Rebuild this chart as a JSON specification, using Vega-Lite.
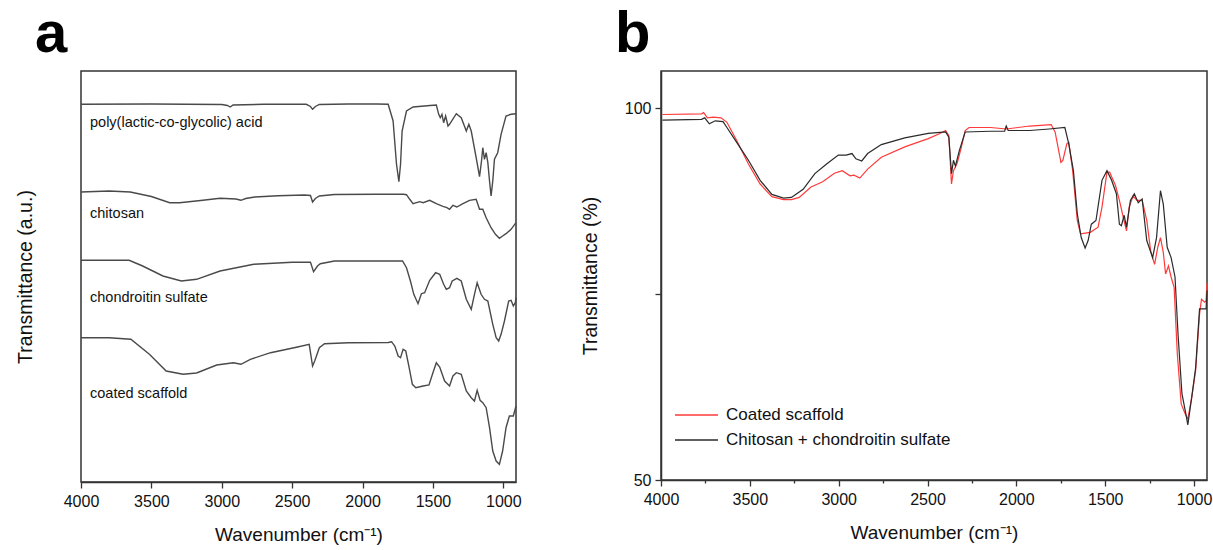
{
  "$schema": "https://vega.github.io/schema/vega-lite/v6.json",
  "background": "white",
  "padding": {"left": 14, "top": 5, "right": 1, "bottom": 2},
  "spacing": 57,
  "resolve": {"legend": {"color": "independent"}},
  "config": {
    "font": "Liberation Sans",
    "view": {"stroke": "#333333", "strokeWidth": 1.5},
    "axis": {"grid": false, "labelFlush": false, "labelOverlap": false, "labelFont": "Liberation Sans", "titleFont": "Liberation Sans", "labelColor": "#111111", "titleColor": "#111111", "titleFontWeight": "normal", "domainColor": "#333333", "domainWidth": 1.5, "tickColor": "#333333", "tickWidth": 1.3}
  },
  "datasets": {
    "a": [
      {"s": "PLGA", "w": 4000, "v": 377.7}, {"s": "PLGA", "w": 3500, "v": 378}, {"s": "PLGA", "w": 3000, "v": 377.5}, {"s": "PLGA", "w": 2960, "v": 376.5}, {"s": "PLGA", "w": 2940, "v": 375}, {"s": "PLGA", "w": 2920, "v": 377}, {"s": "PLGA", "w": 2700, "v": 377.7}, {"s": "PLGA", "w": 2400, "v": 377.7}, {"s": "PLGA", "w": 2370, "v": 375.5}, {"s": "PLGA", "w": 2355, "v": 372.7}, {"s": "PLGA", "w": 2335, "v": 375.5}, {"s": "PLGA", "w": 2307, "v": 377.5}, {"s": "PLGA", "w": 2100, "v": 378}, {"s": "PLGA", "w": 1900, "v": 378}, {"s": "PLGA", "w": 1818, "v": 377.7}, {"s": "PLGA", "w": 1783, "v": 361}, {"s": "PLGA", "w": 1759, "v": 318}, {"s": "PLGA", "w": 1742, "v": 300.3}, {"s": "PLGA", "w": 1730, "v": 318}, {"s": "PLGA", "w": 1719, "v": 351}, {"s": "PLGA", "w": 1688, "v": 371}, {"s": "PLGA", "w": 1641, "v": 375}, {"s": "PLGA", "w": 1520, "v": 376.5}, {"s": "PLGA", "w": 1476, "v": 377}, {"s": "PLGA", "w": 1459, "v": 367.7}, {"s": "PLGA", "w": 1448, "v": 364.3}, {"s": "PLGA", "w": 1436, "v": 367.7}, {"s": "PLGA", "w": 1424, "v": 359.3}, {"s": "PLGA", "w": 1410, "v": 366}, {"s": "PLGA", "w": 1393, "v": 356}, {"s": "PLGA", "w": 1382, "v": 357.7}, {"s": "PLGA", "w": 1334, "v": 368.3}, {"s": "PLGA", "w": 1299, "v": 364.3}, {"s": "PLGA", "w": 1263, "v": 351}, {"s": "PLGA", "w": 1245, "v": 357.7}, {"s": "PLGA", "w": 1228, "v": 351}, {"s": "PLGA", "w": 1193, "v": 324.3}, {"s": "PLGA", "w": 1169, "v": 305.3}, {"s": "PLGA", "w": 1155, "v": 321}, {"s": "PLGA", "w": 1146, "v": 334.3}, {"s": "PLGA", "w": 1134, "v": 322.7}, {"s": "PLGA", "w": 1122, "v": 329.3}, {"s": "PLGA", "w": 1110, "v": 319.3}, {"s": "PLGA", "w": 1098, "v": 301}, {"s": "PLGA", "w": 1087, "v": 286}, {"s": "PLGA", "w": 1075, "v": 301}, {"s": "PLGA", "w": 1063, "v": 322.7}, {"s": "PLGA", "w": 1040, "v": 329.3}, {"s": "PLGA", "w": 1016, "v": 347.7}, {"s": "PLGA", "w": 981, "v": 366}, {"s": "PLGA", "w": 945, "v": 367.7}, {"s": "PLGA", "w": 910, "v": 368.3},
      {"s": "CH", "w": 4000, "v": 290}, {"s": "CH", "w": 3800, "v": 291}, {"s": "CH", "w": 3650, "v": 290}, {"s": "CH", "w": 3500, "v": 285.5}, {"s": "CH", "w": 3370, "v": 279.3}, {"s": "CH", "w": 3300, "v": 279.3}, {"s": "CH", "w": 3150, "v": 281.5}, {"s": "CH", "w": 3012, "v": 283.7}, {"s": "CH", "w": 2900, "v": 283}, {"s": "CH", "w": 2864, "v": 281.7}, {"s": "CH", "w": 2830, "v": 283.5}, {"s": "CH", "w": 2766, "v": 285}, {"s": "CH", "w": 2600, "v": 286.3}, {"s": "CH", "w": 2414, "v": 287}, {"s": "CH", "w": 2370, "v": 286.5}, {"s": "CH", "w": 2355, "v": 280}, {"s": "CH", "w": 2335, "v": 283.5}, {"s": "CH", "w": 2307, "v": 286}, {"s": "CH", "w": 2200, "v": 287.5}, {"s": "CH", "w": 1900, "v": 287.7}, {"s": "CH", "w": 1709, "v": 287.7}, {"s": "CH", "w": 1688, "v": 287.3}, {"s": "CH", "w": 1665, "v": 282.7}, {"s": "CH", "w": 1641, "v": 278.3}, {"s": "CH", "w": 1594, "v": 280.3}, {"s": "CH", "w": 1570, "v": 279.3}, {"s": "CH", "w": 1523, "v": 281.7}, {"s": "CH", "w": 1476, "v": 278.3}, {"s": "CH", "w": 1429, "v": 275.7}, {"s": "CH", "w": 1401, "v": 274.3}, {"s": "CH", "w": 1382, "v": 272.7}, {"s": "CH", "w": 1358, "v": 276.7}, {"s": "CH", "w": 1330, "v": 275}, {"s": "CH", "w": 1287, "v": 278.3}, {"s": "CH", "w": 1240, "v": 281.7}, {"s": "CH", "w": 1193, "v": 282.7}, {"s": "CH", "w": 1169, "v": 272.7}, {"s": "CH", "w": 1146, "v": 272.7}, {"s": "CH", "w": 1122, "v": 264.3}, {"s": "CH", "w": 1087, "v": 254.3}, {"s": "CH", "w": 1056, "v": 247.7}, {"s": "CH", "w": 1028, "v": 243.7}, {"s": "CH", "w": 1005, "v": 246}, {"s": "CH", "w": 981, "v": 248.3}, {"s": "CH", "w": 945, "v": 252.7}, {"s": "CH", "w": 910, "v": 259.3},
      {"s": "CS", "w": 4000, "v": 221.7}, {"s": "CS", "w": 3800, "v": 221.7}, {"s": "CS", "w": 3658, "v": 221.7}, {"s": "CS", "w": 3562, "v": 216}, {"s": "CS", "w": 3418, "v": 206}, {"s": "CS", "w": 3287, "v": 201}, {"s": "CS", "w": 3179, "v": 202.7}, {"s": "CS", "w": 3012, "v": 211}, {"s": "CS", "w": 2773, "v": 217.7}, {"s": "CS", "w": 2500, "v": 219.7}, {"s": "CS", "w": 2370, "v": 219.7}, {"s": "CS", "w": 2348, "v": 210.3}, {"s": "CS", "w": 2320, "v": 216}, {"s": "CS", "w": 2300, "v": 218.3}, {"s": "CS", "w": 2200, "v": 221}, {"s": "CS", "w": 1900, "v": 221}, {"s": "CS", "w": 1716, "v": 221}, {"s": "CS", "w": 1688, "v": 214.3}, {"s": "CS", "w": 1660, "v": 201}, {"s": "CS", "w": 1636, "v": 187.7}, {"s": "CS", "w": 1606, "v": 178.3}, {"s": "CS", "w": 1582, "v": 188.3}, {"s": "CS", "w": 1559, "v": 189.3}, {"s": "CS", "w": 1523, "v": 201.7}, {"s": "CS", "w": 1481, "v": 209.3}, {"s": "CS", "w": 1452, "v": 207.7}, {"s": "CS", "w": 1424, "v": 197.7}, {"s": "CS", "w": 1405, "v": 192.7}, {"s": "CS", "w": 1382, "v": 194.3}, {"s": "CS", "w": 1363, "v": 201}, {"s": "CS", "w": 1330, "v": 203.7}, {"s": "CS", "w": 1299, "v": 201}, {"s": "CS", "w": 1263, "v": 182.7}, {"s": "CS", "w": 1228, "v": 172.7}, {"s": "CS", "w": 1205, "v": 187.7}, {"s": "CS", "w": 1186, "v": 199.3}, {"s": "CS", "w": 1158, "v": 187.7}, {"s": "CS", "w": 1134, "v": 182.7}, {"s": "CS", "w": 1110, "v": 181}, {"s": "CS", "w": 1075, "v": 157.7}, {"s": "CS", "w": 1051, "v": 144.3}, {"s": "CS", "w": 1033, "v": 141}, {"s": "CS", "w": 1016, "v": 147.7}, {"s": "CS", "w": 992, "v": 161}, {"s": "CS", "w": 962, "v": 181}, {"s": "CS", "w": 945, "v": 181.7}, {"s": "CS", "w": 929, "v": 176}, {"s": "CS", "w": 915, "v": 179.3}, {"s": "CS", "w": 910, "v": 184.3},
      {"s": "CO", "w": 4000, "v": 144.3}, {"s": "CO", "w": 3800, "v": 144.3}, {"s": "CO", "w": 3646, "v": 142.7}, {"s": "CO", "w": 3514, "v": 127.7}, {"s": "CO", "w": 3395, "v": 111}, {"s": "CO", "w": 3275, "v": 107.7}, {"s": "CO", "w": 3179, "v": 109}, {"s": "CO", "w": 3036, "v": 117}, {"s": "CO", "w": 2917, "v": 119.3}, {"s": "CO", "w": 2864, "v": 117.7}, {"s": "CO", "w": 2797, "v": 122.7}, {"s": "CO", "w": 2653, "v": 129.3}, {"s": "CO", "w": 2462, "v": 135}, {"s": "CO", "w": 2379, "v": 137.7}, {"s": "CO", "w": 2355, "v": 116}, {"s": "CO", "w": 2340, "v": 121}, {"s": "CO", "w": 2307, "v": 134.3}, {"s": "CO", "w": 2270, "v": 138.3}, {"s": "CO", "w": 2100, "v": 139.3}, {"s": "CO", "w": 1817, "v": 139.5}, {"s": "CO", "w": 1794, "v": 140.3}, {"s": "CO", "w": 1771, "v": 136}, {"s": "CO", "w": 1747, "v": 126}, {"s": "CO", "w": 1730, "v": 124.3}, {"s": "CO", "w": 1712, "v": 132.7}, {"s": "CO", "w": 1693, "v": 131}, {"s": "CO", "w": 1669, "v": 114.3}, {"s": "CO", "w": 1646, "v": 97.7}, {"s": "CO", "w": 1622, "v": 94.3}, {"s": "CO", "w": 1570, "v": 96}, {"s": "CO", "w": 1528, "v": 97}, {"s": "CO", "w": 1500, "v": 109.3}, {"s": "CO", "w": 1476, "v": 119.3}, {"s": "CO", "w": 1452, "v": 115}, {"s": "CO", "w": 1417, "v": 101}, {"s": "CO", "w": 1382, "v": 96}, {"s": "CO", "w": 1358, "v": 106}, {"s": "CO", "w": 1334, "v": 109.3}, {"s": "CO", "w": 1299, "v": 107.7}, {"s": "CO", "w": 1263, "v": 91}, {"s": "CO", "w": 1228, "v": 84.3}, {"s": "CO", "w": 1205, "v": 81}, {"s": "CO", "w": 1186, "v": 91.7}, {"s": "CO", "w": 1165, "v": 81.7}, {"s": "CO", "w": 1146, "v": 79.3}, {"s": "CO", "w": 1122, "v": 74.3}, {"s": "CO", "w": 1098, "v": 54.3}, {"s": "CO", "w": 1075, "v": 31}, {"s": "CO", "w": 1051, "v": 21}, {"s": "CO", "w": 1028, "v": 17.7}, {"s": "CO", "w": 1005, "v": 31}, {"s": "CO", "w": 981, "v": 54.3}, {"s": "CO", "w": 957, "v": 66}, {"s": "CO", "w": 929, "v": 66}, {"s": "CO", "w": 910, "v": 76}
    ],
    "alab": [
      {"t": "poly(lactic-co-glycolic) acid", "w": 3936, "v": 359},
      {"t": "chitosan", "w": 3936, "v": 267.7},
      {"t": "chondroitin sulfate", "w": 3936, "v": 184.3},
      {"t": "coated scaffold", "w": 3936, "v": 87.7}
    ],
    "b": [
      {"s": "Coated scaffold", "w": 3992, "v": 99.15}, {"s": "Coated scaffold", "w": 3772, "v": 99.24}, {"s": "Coated scaffold", "w": 3760, "v": 99.4}, {"s": "Coated scaffold", "w": 3739, "v": 98.7}, {"s": "Coated scaffold", "w": 3705, "v": 98.8}, {"s": "Coated scaffold", "w": 3662, "v": 98.7}, {"s": "Coated scaffold", "w": 3629, "v": 98.1}, {"s": "Coated scaffold", "w": 3574, "v": 95.65}, {"s": "Coated scaffold", "w": 3508, "v": 92.5}, {"s": "Coated scaffold", "w": 3442, "v": 89.8}, {"s": "Coated scaffold", "w": 3376, "v": 88.1}, {"s": "Coated scaffold", "w": 3310, "v": 87.7}, {"s": "Coated scaffold", "w": 3266, "v": 87.7}, {"s": "Coated scaffold", "w": 3222, "v": 88.0}, {"s": "Coated scaffold", "w": 3156, "v": 89.4}, {"s": "Coated scaffold", "w": 3090, "v": 90.1}, {"s": "Coated scaffold", "w": 3024, "v": 91.25}, {"s": "Coated scaffold", "w": 2980, "v": 91.6}, {"s": "Coated scaffold", "w": 2936, "v": 90.9}, {"s": "Coated scaffold", "w": 2914, "v": 91.0}, {"s": "Coated scaffold", "w": 2881, "v": 90.6}, {"s": "Coated scaffold", "w": 2837, "v": 91.8}, {"s": "Coated scaffold", "w": 2760, "v": 93.4}, {"s": "Coated scaffold", "w": 2628, "v": 94.8}, {"s": "Coated scaffold", "w": 2496, "v": 95.9}, {"s": "Coated scaffold", "w": 2430, "v": 96.6}, {"s": "Coated scaffold", "w": 2398, "v": 97.0}, {"s": "Coated scaffold", "w": 2380, "v": 96.3}, {"s": "Coated scaffold", "w": 2365, "v": 89.8}, {"s": "Coated scaffold", "w": 2354, "v": 91.6}, {"s": "Coated scaffold", "w": 2343, "v": 92.1}, {"s": "Coated scaffold", "w": 2332, "v": 92.7}, {"s": "Coated scaffold", "w": 2310, "v": 94.7}, {"s": "Coated scaffold", "w": 2288, "v": 97.0}, {"s": "Coated scaffold", "w": 2266, "v": 97.4}, {"s": "Coated scaffold", "w": 2145, "v": 97.4}, {"s": "Coated scaffold", "w": 2057, "v": 97.2}, {"s": "Coated scaffold", "w": 1925, "v": 97.6}, {"s": "Coated scaffold", "w": 1804, "v": 97.8}, {"s": "Coated scaffold", "w": 1782, "v": 96.8}, {"s": "Coated scaffold", "w": 1749, "v": 92.7}, {"s": "Coated scaffold", "w": 1738, "v": 93.0}, {"s": "Coated scaffold", "w": 1716, "v": 95.2}, {"s": "Coated scaffold", "w": 1705, "v": 95.4}, {"s": "Coated scaffold", "w": 1683, "v": 91.6}, {"s": "Coated scaffold", "w": 1657, "v": 84.9}, {"s": "Coated scaffold", "w": 1639, "v": 83.1}, {"s": "Coated scaffold", "w": 1584, "v": 83.3}, {"s": "Coated scaffold", "w": 1540, "v": 84.0}, {"s": "Coated scaffold", "w": 1518, "v": 86.7}, {"s": "Coated scaffold", "w": 1490, "v": 91.4}, {"s": "Coated scaffold", "w": 1475, "v": 91.4}, {"s": "Coated scaffold", "w": 1442, "v": 89.6}, {"s": "Coated scaffold", "w": 1420, "v": 87.6}, {"s": "Coated scaffold", "w": 1398, "v": 85.3}, {"s": "Coated scaffold", "w": 1380, "v": 83.5}, {"s": "Coated scaffold", "w": 1365, "v": 86.7}, {"s": "Coated scaffold", "w": 1343, "v": 88.2}, {"s": "Coated scaffold", "w": 1321, "v": 87.6}, {"s": "Coated scaffold", "w": 1292, "v": 87.6}, {"s": "Coated scaffold", "w": 1266, "v": 84.9}, {"s": "Coated scaffold", "w": 1244, "v": 80.8}, {"s": "Coated scaffold", "w": 1222, "v": 79.0}, {"s": "Coated scaffold", "w": 1204, "v": 81.3}, {"s": "Coated scaffold", "w": 1189, "v": 82.6}, {"s": "Coated scaffold", "w": 1173, "v": 80.6}, {"s": "Coated scaffold", "w": 1160, "v": 77.7}, {"s": "Coated scaffold", "w": 1144, "v": 78.8}, {"s": "Coated scaffold", "w": 1129, "v": 77.3}, {"s": "Coated scaffold", "w": 1112, "v": 75.9}, {"s": "Coated scaffold", "w": 1094, "v": 66.9}, {"s": "Coated scaffold", "w": 1072, "v": 60.2}, {"s": "Coated scaffold", "w": 1050, "v": 58.9}, {"s": "Coated scaffold", "w": 1035, "v": 58.2}, {"s": "Coated scaffold", "w": 1013, "v": 61.1}, {"s": "Coated scaffold", "w": 991, "v": 64.7}, {"s": "Coated scaffold", "w": 969, "v": 72.3}, {"s": "Coated scaffold", "w": 958, "v": 74.3}, {"s": "Coated scaffold", "w": 940, "v": 73.9}, {"s": "Coated scaffold", "w": 932, "v": 74.1}, {"s": "Coated scaffold", "w": 927, "v": 76.5},
      {"s": "Chitosan + chondroitin sulfate", "w": 3992, "v": 98.4}, {"s": "Chitosan + chondroitin sulfate", "w": 3772, "v": 98.5}, {"s": "Chitosan + chondroitin sulfate", "w": 3754, "v": 98.7}, {"s": "Chitosan + chondroitin sulfate", "w": 3728, "v": 97.9}, {"s": "Chitosan + chondroitin sulfate", "w": 3695, "v": 98.3}, {"s": "Chitosan + chondroitin sulfate", "w": 3651, "v": 98.2}, {"s": "Chitosan + chondroitin sulfate", "w": 3629, "v": 97.4}, {"s": "Chitosan + chondroitin sulfate", "w": 3574, "v": 95.4}, {"s": "Chitosan + chondroitin sulfate", "w": 3508, "v": 93.0}, {"s": "Chitosan + chondroitin sulfate", "w": 3442, "v": 90.3}, {"s": "Chitosan + chondroitin sulfate", "w": 3376, "v": 88.4}, {"s": "Chitosan + chondroitin sulfate", "w": 3310, "v": 87.9}, {"s": "Chitosan + chondroitin sulfate", "w": 3266, "v": 88.0}, {"s": "Chitosan + chondroitin sulfate", "w": 3200, "v": 89.1}, {"s": "Chitosan + chondroitin sulfate", "w": 3134, "v": 91.2}, {"s": "Chitosan + chondroitin sulfate", "w": 3068, "v": 92.5}, {"s": "Chitosan + chondroitin sulfate", "w": 3002, "v": 93.7}, {"s": "Chitosan + chondroitin sulfate", "w": 2958, "v": 93.7}, {"s": "Chitosan + chondroitin sulfate", "w": 2925, "v": 93.9}, {"s": "Chitosan + chondroitin sulfate", "w": 2903, "v": 93.2}, {"s": "Chitosan + chondroitin sulfate", "w": 2870, "v": 92.9}, {"s": "Chitosan + chondroitin sulfate", "w": 2837, "v": 93.9}, {"s": "Chitosan + chondroitin sulfate", "w": 2760, "v": 95.1}, {"s": "Chitosan + chondroitin sulfate", "w": 2628, "v": 96.0}, {"s": "Chitosan + chondroitin sulfate", "w": 2496, "v": 96.6}, {"s": "Chitosan + chondroitin sulfate", "w": 2398, "v": 96.8}, {"s": "Chitosan + chondroitin sulfate", "w": 2380, "v": 96.1}, {"s": "Chitosan + chondroitin sulfate", "w": 2365, "v": 91.2}, {"s": "Chitosan + chondroitin sulfate", "w": 2354, "v": 93.0}, {"s": "Chitosan + chondroitin sulfate", "w": 2343, "v": 92.2}, {"s": "Chitosan + chondroitin sulfate", "w": 2321, "v": 94.3}, {"s": "Chitosan + chondroitin sulfate", "w": 2288, "v": 96.8}, {"s": "Chitosan + chondroitin sulfate", "w": 2145, "v": 96.9}, {"s": "Chitosan + chondroitin sulfate", "w": 2066, "v": 96.9}, {"s": "Chitosan + chondroitin sulfate", "w": 2057, "v": 97.6}, {"s": "Chitosan + chondroitin sulfate", "w": 2046, "v": 97.0}, {"s": "Chitosan + chondroitin sulfate", "w": 1925, "v": 97.0}, {"s": "Chitosan + chondroitin sulfate", "w": 1815, "v": 97.2}, {"s": "Chitosan + chondroitin sulfate", "w": 1727, "v": 97.4}, {"s": "Chitosan + chondroitin sulfate", "w": 1705, "v": 95.2}, {"s": "Chitosan + chondroitin sulfate", "w": 1679, "v": 91.6}, {"s": "Chitosan + chondroitin sulfate", "w": 1657, "v": 85.8}, {"s": "Chitosan + chondroitin sulfate", "w": 1635, "v": 82.6}, {"s": "Chitosan + chondroitin sulfate", "w": 1613, "v": 81.2}, {"s": "Chitosan + chondroitin sulfate", "w": 1596, "v": 82.2}, {"s": "Chitosan + chondroitin sulfate", "w": 1578, "v": 84.4}, {"s": "Chitosan + chondroitin sulfate", "w": 1552, "v": 84.9}, {"s": "Chitosan + chondroitin sulfate", "w": 1518, "v": 90.3}, {"s": "Chitosan + chondroitin sulfate", "w": 1490, "v": 91.6}, {"s": "Chitosan + chondroitin sulfate", "w": 1464, "v": 90.3}, {"s": "Chitosan + chondroitin sulfate", "w": 1437, "v": 88.5}, {"s": "Chitosan + chondroitin sulfate", "w": 1420, "v": 84.4}, {"s": "Chitosan + chondroitin sulfate", "w": 1409, "v": 84.2}, {"s": "Chitosan + chondroitin sulfate", "w": 1393, "v": 85.6}, {"s": "Chitosan + chondroitin sulfate", "w": 1380, "v": 84.0}, {"s": "Chitosan + chondroitin sulfate", "w": 1358, "v": 87.6}, {"s": "Chitosan + chondroitin sulfate", "w": 1336, "v": 88.5}, {"s": "Chitosan + chondroitin sulfate", "w": 1314, "v": 87.3}, {"s": "Chitosan + chondroitin sulfate", "w": 1292, "v": 87.8}, {"s": "Chitosan + chondroitin sulfate", "w": 1266, "v": 82.2}, {"s": "Chitosan + chondroitin sulfate", "w": 1233, "v": 79.9}, {"s": "Chitosan + chondroitin sulfate", "w": 1211, "v": 82.6}, {"s": "Chitosan + chondroitin sulfate", "w": 1189, "v": 88.9}, {"s": "Chitosan + chondroitin sulfate", "w": 1173, "v": 87.1}, {"s": "Chitosan + chondroitin sulfate", "w": 1151, "v": 81.3}, {"s": "Chitosan + chondroitin sulfate", "w": 1129, "v": 79.9}, {"s": "Chitosan + chondroitin sulfate", "w": 1107, "v": 77.3}, {"s": "Chitosan + chondroitin sulfate", "w": 1090, "v": 69.6}, {"s": "Chitosan + chondroitin sulfate", "w": 1068, "v": 61.6}, {"s": "Chitosan + chondroitin sulfate", "w": 1046, "v": 58.9}, {"s": "Chitosan + chondroitin sulfate", "w": 1035, "v": 57.4}, {"s": "Chitosan + chondroitin sulfate", "w": 1013, "v": 61.1}, {"s": "Chitosan + chondroitin sulfate", "w": 991, "v": 65.1}, {"s": "Chitosan + chondroitin sulfate", "w": 969, "v": 73.0}, {"s": "Chitosan + chondroitin sulfate", "w": 947, "v": 73.0}, {"s": "Chitosan + chondroitin sulfate", "w": 932, "v": 73.0}, {"s": "Chitosan + chondroitin sulfate", "w": 927, "v": 75.5}
    ]
  },
  "hconcat": [
    {
      "width": 435,
      "height": 411,
      "title": {"text": "a", "fontSize": 58, "fontWeight": "bold", "font": "Liberation Sans", "anchor": "start", "frame": "group", "dx": -46, "offset": 7, "color": "#000000"},
      "layer": [
        {
          "data": {"name": "a"},
          "mark": {"type": "line", "color": "#4a4a4a", "strokeWidth": 1.4},
          "encoding": {
            "x": {"field": "w", "type": "quantitative", "scale": {"domain": [4000, 910], "nice": false, "zero": false},
              "axis": {"title": "Wavenumber (cm⁻¹)", "titleFontSize": 19, "titlePadding": 16, "labelFontSize": 16, "labelPadding": 5, "format": "d",
                "values": [1000, 1250, 1500, 1750, 2000, 2250, 2500, 2750, 3000, 3250, 3500, 3750, 4000],
                "labelExpr": "datum.value % 500 === 0 ? datum.label : ''",
                "tickSize": {"condition": {"test": "datum.value % 500 === 0", "value": 6}, "value": 3}}},
            "y": {"field": "v", "type": "quantitative", "scale": {"domain": [0, 411], "nice": false},
              "axis": {"title": "Transmittance (a.u.)", "titleFontSize": 19.5, "labels": false, "ticks": false, "domain": false, "titlePadding": 46}},
            "detail": {"field": "s", "type": "nominal"}
          }
        },
        {
          "data": {"name": "alab"},
          "mark": {"type": "text", "align": "left", "baseline": "middle", "fontSize": 14.5, "color": "#111111"},
          "encoding": {
            "x": {"field": "w", "type": "quantitative"},
            "y": {"field": "v", "type": "quantitative"},
            "text": {"field": "t", "type": "nominal"}
          }
        }
      ]
    },
    {
      "width": 546,
      "height": 409,
      "title": {"text": "b", "fontSize": 58, "fontWeight": "bold", "font": "Liberation Sans", "anchor": "start", "frame": "group", "dx": -46, "offset": 7, "color": "#000000"},
      "data": {"name": "b"},
      "mark": {"type": "line", "strokeWidth": 1.2},
      "encoding": {
        "x": {"field": "w", "type": "quantitative", "scale": {"domain": [4000, 927], "nice": false, "zero": false},
          "axis": {"title": "Wavenumber (cm⁻¹)", "titleFontSize": 19, "titlePadding": 16, "labelFontSize": 16, "labelPadding": 5, "format": "d",
            "values": [1000, 1250, 1500, 1750, 2000, 2250, 2500, 2750, 3000, 3250, 3500, 3750, 4000],
            "labelExpr": "datum.value % 500 === 0 ? datum.label : ''",
            "tickSize": {"condition": {"test": "datum.value % 500 === 0", "value": 6}, "value": 3}}},
        "y": {"field": "v", "type": "quantitative", "scale": {"domain": [50, 105], "nice": false, "zero": false},
          "axis": {"title": "Transmittance (%)", "titleFontSize": 19.5, "titlePadding": 24, "labelFontSize": 16, "labelPadding": 4, "values": [50, 75, 100],
            "labelExpr": "datum.value === 75 ? '' : datum.label", "tickSize": 6}},
        "color": {"field": "s", "type": "nominal",
          "scale": {"domain": ["Coated scaffold", "Chitosan + chondroitin sulfate"], "range": ["#ff3a3a", "#2a2a2a"]},
          "legend": {"title": null, "orient": "none", "legendX": 13, "legendY": 334, "symbolType": "stroke", "symbolSize": 1850, "symbolStrokeWidth": 1.5, "clipHeight": 20, "rowPadding": 5, "labelFontSize": 17, "labelOffset": 7, "labelLimit": 400, "labelColor": "#111111", "padding": 0}}
      }
    }
  ]
}
